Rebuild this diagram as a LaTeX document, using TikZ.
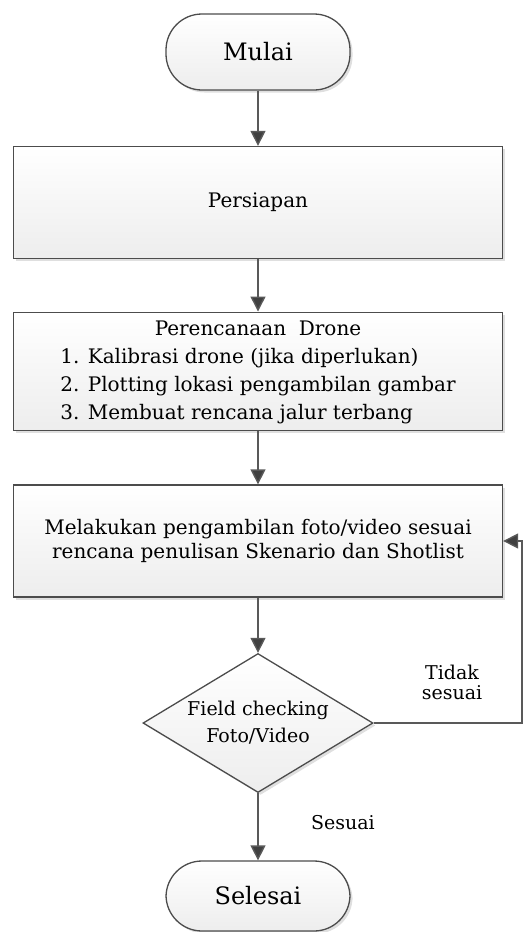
\documentclass[tikz,border=0pt]{standalone}
\usepackage{fontspec}
\setmainfont{DejaVu Serif}
\usetikzlibrary{arrows.meta,shapes.geometric,shadows}

\begin{document}
\begin{tikzpicture}[x=1pt,y=-1pt,
  >={Triangle[width=15pt,length=15pt,fill=black!75]},
  kotak/.style={draw=black!70, line width=1.3pt, top color=white, bottom color=black!7,
    drop shadow={shadow xshift=2.5pt, shadow yshift=-2.5pt, opacity=.25}},
  terminal/.style={kotak, rounded corners=36pt, minimum width=184pt, minimum height=76pt,
    font=\fontsize{24}{28}\selectfont},
  proses/.style={kotak, minimum width=489pt, minimum height=112pt, align=center,
    font=\fontsize{20}{24}\selectfont},
  keputusan/.style={kotak, diamond, aspect=1.65, inner sep=0pt, minimum width=230pt,
    minimum height=139pt, align=center, font=\fontsize{19}{27}\selectfont},
  panah/.style={->, draw=black!65, line width=1.4pt},
  ket/.style={align=center, font=\fontsize{19}{20}\selectfont}]
\useasboundingbox (0,0) rectangle (525,932);
\node[terminal] (mulai) at (258,52) {Mulai};
\node[proses] (siap) at (258,202.5) {Persiapan};
\node[proses, minimum height=113pt, font=\fontsize{20}{28}\selectfont] (rencana) at (258,371.5)
  {\begin{tabular}{@{}l@{}}
   \multicolumn{1}{@{}c@{}}{Perencanaan\ \ Drone}\\
   1. Kalibrasi drone (jika diperlukan)\\
   2. Plotting lokasi pengambilan gambar\\
   3. Membuat rencana jalur terbang
   \end{tabular}};
\node[proses] (ambil) at (258,541) {Melakukan pengambilan foto/video sesuai\\rencana penulisan Skenario dan Shotlist};
\node[keputusan] (cek) at (258,723) {Field checking\\Foto/Video};
\node[terminal, minimum height=70pt] (selesai) at (258,896) {Selesai};
\node[ket] (tidak) at (452,682) {Tidak\\sesuai};
\node[ket] (sesuai) at (343,823) {Sesuai};
\coordinate (balik) at (522,723);
\draw[panah] (mulai) -- (siap);
\draw[panah] (siap) -- (rencana);
\draw[panah] (rencana) -- (ambil);
\draw[panah] (ambil) -- (cek);
\draw[panah] (cek) -- (selesai);
\draw[panah] (cek) -- (balik) |- (ambil);
\end{tikzpicture}
\end{document}
